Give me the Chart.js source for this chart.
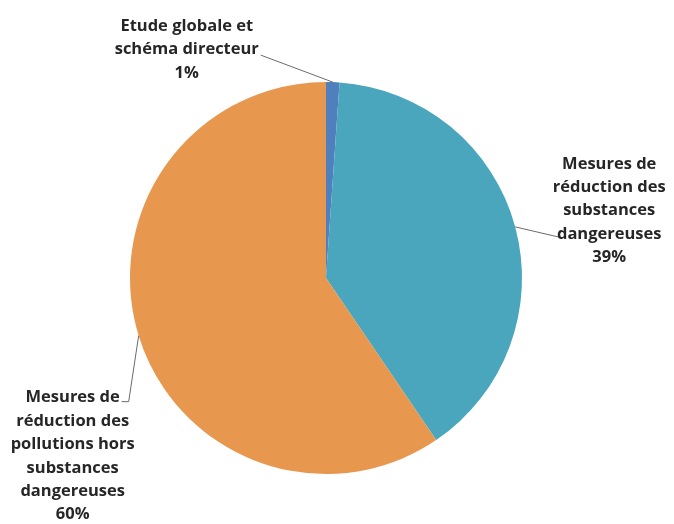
<!DOCTYPE html>
<html>
<head>
<meta charset="utf-8">
<script src="https://cdn.jsdelivr.net/npm/chart.js@4.4.0/dist/chart.umd.min.js"></script>
<style>
  html, body { margin: 0; padding: 0; background: #fff; }
  #wrap { width: 674px; height: 524px; position: relative; }
</style>
</head>
<body>
<div id="wrap"><canvas id="pie" width="674" height="524"></canvas></div>
<script>
const categories = [
    ['Etude globale et', 'schéma directeur'],
    ['Mesures de', 'réduction des', 'substances', 'dangereuses'],
    ['Mesures de', 'réduction des', 'pollutions hors', 'substances', 'dangereuses']
];
const shares = [1.1, 39.4, 59.5];
const colors = ['#4f7fbd', '#4aa6bd', '#e8974f'];

// where each label sits, relative to the point on the pie edge
// elbow: bend of the leader, text: centre of first line relative to the first elbow
const labelPlacement = [
    { elbow: [[-72, -27]], text: [-74, -29] },
    { elbow: [[47, 11]], text: [47, -74] },
    { elbow: [[-10, 66], [-17, 66]], text: [-56, -4] }
];

const lineHeight = 23.4;

const calloutPlugin = {
    id: 'callouts',
    afterDatasetsDraw(chart) {
        const ctx = chart.ctx;
        const arcs = chart.getDatasetMeta(0).data;
        ctx.save();
        ctx.font = 'bold 16.5px "Open Sans"';
        ctx.fillStyle = '#262626';
        ctx.textAlign = 'center';
        ctx.textBaseline = 'middle';
        arcs.forEach((arc, i) => {
            const mid = (arc.startAngle + arc.endAngle) / 2;
            const ex = arc.x + Math.cos(mid) * arc.outerRadius;
            const ey = arc.y + Math.sin(mid) * arc.outerRadius;
            const p = labelPlacement[i];
            ctx.strokeStyle = '#6b6b6b';
            ctx.lineWidth = 1;
            ctx.beginPath();
            ctx.moveTo(ex, ey);
            p.elbow.forEach(e => ctx.lineTo(ex + e[0], ey + e[1]));
            ctx.stroke();
            const first = p.elbow[0];
            const tx = ex + first[0] + p.text[0];
            const ty = ey + first[1] + p.text[1];
            const lines = categories[i].concat([Math.round(shares[i]) + '%']);
            lines.forEach((l, k) => ctx.fillText(l, tx, ty + k * lineHeight));
        });
        ctx.restore();
    }
};

new Chart(document.getElementById('pie'), {
    type: 'pie',
    data: {
        labels: categories.map(c => c.join(' ')),
        datasets: [{
            data: shares,
            backgroundColor: colors,
            borderWidth: 0
        }]
    },
    options: {
        responsive: false,
        animation: false,
        layout: { padding: { top: 82, bottom: 50, left: 130, right: 152 } },
        plugins: { legend: { display: false }, tooltip: { enabled: false } }
    },
    plugins: [calloutPlugin]
});
</script>
</body>
</html>
